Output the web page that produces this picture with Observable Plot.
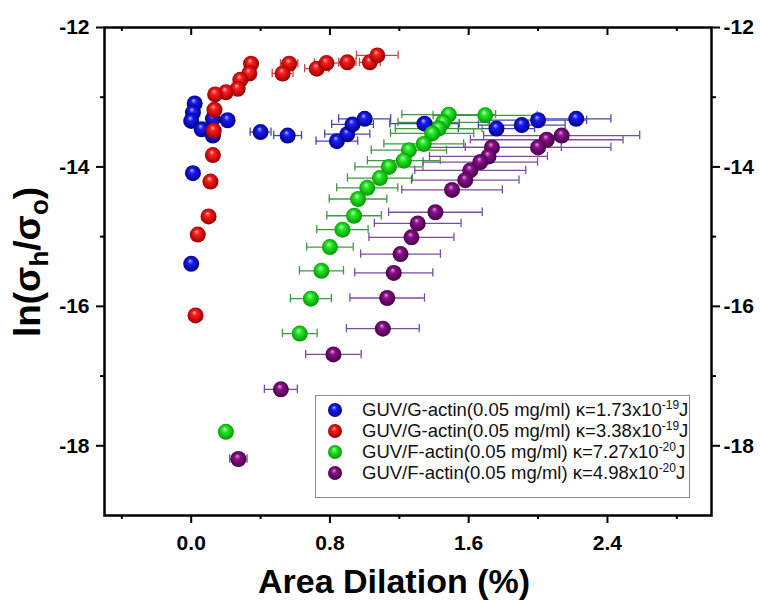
<!DOCTYPE html>
<html>
<head>
<meta charset="utf-8">
<script src="https://cdn.jsdelivr.net/npm/d3@7"></script>
<script src="https://cdn.jsdelivr.net/npm/@observablehq/plot@0.6"></script>
<style>
  body { margin: 0; background: #fff; }
  #wrap { position: relative; width: 760px; height: 603px; font-family: "Liberation Sans", Arial, sans-serif; }
  #defs { position: absolute; width: 0; height: 0; overflow: hidden; }
  #legend { position: absolute; left: 315px; top: 395px; width: 375px; height: 103px; box-sizing: border-box;
            border: 1px solid #8a8a8a; background: #fff; padding-top: 3px; }
  .row { height: 21px; display: flex; align-items: center; font-size: 18.5px; color: #111; white-space: nowrap; }
  .row svg { margin-left: 11px; margin-right: 19px; }
  .row sup { font-size: 12px; vertical-align: 7px; line-height: 0; }
</style>
</head>
<body>
<div id="wrap">
  <svg id="defs" width="0" height="0">
    <defs>
      <radialGradient id="gBlue" cx="50%" cy="50%" r="55%" fx="42%" fy="30%">
        <stop offset="0%" stop-color="#b8b8ff"/><stop offset="30%" stop-color="#1a1aff"/><stop offset="100%" stop-color="#00006e"/>
      </radialGradient>
      <radialGradient id="gRed" cx="50%" cy="50%" r="55%" fx="42%" fy="30%">
        <stop offset="0%" stop-color="#ffb8b8"/><stop offset="30%" stop-color="#ff1a1a"/><stop offset="100%" stop-color="#8a0000"/>
      </radialGradient>
      <radialGradient id="gGreen" cx="50%" cy="50%" r="55%" fx="42%" fy="30%">
        <stop offset="0%" stop-color="#d0ffd0"/><stop offset="30%" stop-color="#22ee22"/><stop offset="100%" stop-color="#078a07"/>
      </radialGradient>
      <radialGradient id="gPurple" cx="50%" cy="50%" r="55%" fx="42%" fy="30%">
        <stop offset="0%" stop-color="#e0a0e0"/><stop offset="30%" stop-color="#8c108c"/><stop offset="100%" stop-color="#3e003e"/>
      </radialGradient>
    </defs>
  </svg>
  <div id="chart"></div>
  <div id="legend"></div>
</div>
<script>
// ---- tick values ----
const xMajor = [0, 0.8, 1.6, 2.4];
const xMinor = [-0.4, 0.4, 1.2, 2.0, 2.8];
const yMajor = [-12, -14, -16, -18];
const yMinor = [-13, -15, -17];

// ---- series names ----
const seriesNames = [
  ["GUV/G-actin(0.05 mg/ml) κ=1.73x10", "-19", "J"],
  ["GUV/G-actin(0.05 mg/ml) κ=3.38x10", "-19", "J"],
  ["GUV/F-actin(0.05 mg/ml) κ=7.27x10", "-20", "J"],
  ["GUV/F-actin(0.05 mg/ml) κ=4.98x10", "-20", "J"]
];

// ---- blue: GUV/G-actin κ=1.73e-19 ----
const blueX = [0.02, 0.01, 0.0, 0.06, 0.125, 0.125, 0.21, 0.01, 0.0, 0.40, 0.556, 0.84, 0.90, 0.93, 1.0, 1.345, 1.76, 1.906, 2.0, 2.22];
const blueY = [-13.09, -13.22, -13.34, -13.46, -13.31, -13.55, -13.33, -14.09, -15.39, -13.50, -13.55, -13.63, -13.53, -13.39, -13.31, -13.38, -13.45, -13.40, -13.33, -13.31];
const blueErr = [0, 0, 0, 0, 0, 0, 0, 0, 0, 0.06, 0.08, 0.12, 0.13, 0.12, 0.15, 0.2, 0.22, 0.25, 0.28, 0.2];

// ---- red: GUV/G-actin κ=3.38e-19 ----
const redX = [0.345, 0.335, 0.283, 0.268, 0.20, 0.138, 0.134, 0.13, 0.125, 0.111, 0.10, 0.038, 0.025, 0.565, 0.527, 0.724, 0.78, 0.90, 1.03, 1.073];
const redY = [-12.52, -12.66, -12.75, -12.88, -12.93, -12.96, -13.18, -13.48, -13.83, -14.21, -14.71, -14.97, -16.13, -12.52, -12.66, -12.59, -12.51, -12.50, -12.50, -12.40];
const redErr = [0.03, 0, 0, 0, 0, 0, 0, 0, 0, 0, 0, 0, 0, 0.05, 0.06, 0.07, 0.07, 0.05, 0.06, 0.12];

// ---- green: GUV/F-actin κ=7.27e-20 ----
const greenX = [1.695, 1.485, 1.452, 1.427, 1.389, 1.341, 1.255, 1.226, 1.14, 1.088, 1.015, 0.962, 0.939, 0.872, 0.80, 0.751, 0.69, 0.626, 0.20];
const greenY = [-13.26, -13.25, -13.36, -13.45, -13.52, -13.67, -13.76, -13.91, -14.0, -14.16, -14.30, -14.46, -14.70, -14.90, -15.15, -15.49, -15.89, -16.39, -17.80];
const greenErr = [0.3, 0.27, 0.26, 0.25, 0.24, 0.23, 0.217, 0.21, 0.196, 0.187, 0.176, 0.166, 0.157, 0.148, 0.134, 0.127, 0.118, 0.10, 0];

// ---- purple: GUV/F-actin κ=4.98e-20 ----
const purpleX = [2.136, 2.05, 2.0, 1.734, 1.714, 1.667, 1.609, 1.58, 1.504, 1.408, 1.306, 1.27, 1.207, 1.168, 1.13, 1.105, 0.82, 0.517, 0.272];
const purpleY = [-13.55, -13.61, -13.72, -13.72, -13.85, -13.93, -14.05, -14.19, -14.33, -14.65, -14.81, -15.01, -15.25, -15.52, -15.88, -16.32, -16.69, -17.19, -18.19];
const purpleErr = [0.45, 0.44, 0.42, 0.40, 0.34, 0.33, 0.32, 0.31, 0.29, 0.27, 0.25, 0.245, 0.23, 0.225, 0.215, 0.21, 0.16, 0.095, 0.05];

// ---- build tables ----
const styles = [
  {fill: "url(#gBlue)", bar: "#4646b4"},
  {fill: "url(#gRed)", bar: "#c84646"},
  {fill: "url(#gGreen)", bar: "#3f9a3f"},
  {fill: "url(#gPurple)", bar: "#7d4a9e"}
];
const raw = [[blueX, blueY, blueErr], [redX, redY, redErr], [greenX, greenY, greenErr], [purpleX, purpleY, purpleErr]];
const series = raw.map(([xs, ys, es]) => xs.map((x, i) => ({x, y: ys[i], e: es[i]})));

const FONT = '"Liberation Sans", Arial, sans-serif';
const cap = 0.06;

const marks = [];
series.forEach((rows, k) => {
  const withErr = rows.filter(d => d.e > 0);
  marks.push(
    Plot.ruleY(withErr, {y: "y", x1: d => d.x - d.e, x2: d => d.x + d.e, stroke: styles[k].bar, strokeWidth: 1.3}),
    Plot.ruleX(withErr, {x: d => d.x - d.e, y1: d => d.y - cap, y2: d => d.y + cap, stroke: styles[k].bar, strokeWidth: 1.3}),
    Plot.ruleX(withErr, {x: d => d.x + d.e, y1: d => d.y - cap, y2: d => d.y + cap, stroke: styles[k].bar, strokeWidth: 1.3})
  );
});
series.forEach((rows, k) => {
  marks.push(Plot.dot(rows, {x: "x", y: "y", r: 8, fill: styles[k].fill, stroke: "none"}));
});

const frameH = 603 - 27 - 88;
const plot = Plot.plot({
  width: 760, height: 603,
  marginLeft: 104, marginRight: 49, marginTop: 27, marginBottom: 88,
  x: {domain: [-0.5, 3], label: null},
  y: {domain: [-19, -12], label: null},
  style: {fontFamily: FONT, background: "white", color: "black", overflow: "visible"},
  marks: [
    ...marks,
    Plot.axisX(xMajor, {anchor: "bottom", tickSize: 8, tickPadding: 12, tickFormat: d => d.toFixed(1), fontSize: 21, fontWeight: "bold", strokeWidth: 2, label: null}),
    Plot.axisX(xMinor, {anchor: "bottom", tickSize: 4, tickFormat: () => "", strokeWidth: 2, label: null}),
    Plot.tickX(xMajor, {x: d => d, insetBottom: frameH - 8, stroke: "black", strokeWidth: 2}),
    Plot.tickX(xMinor, {x: d => d, insetBottom: frameH - 4, stroke: "black", strokeWidth: 2}),
    Plot.axisY(yMajor, {anchor: "left", tickSize: 8, tickPadding: 7, tickFormat: d => String(d), fontSize: 21, fontWeight: "bold", strokeWidth: 2, label: null}),
    Plot.axisY(yMinor, {anchor: "left", tickSize: 4, tickFormat: () => "", strokeWidth: 2, label: null}),
    Plot.axisY(yMajor, {anchor: "right", tickSize: 8, tickPadding: 4, tickFormat: d => String(d), fontSize: 21, fontWeight: "bold", strokeWidth: 2, label: null}),
    Plot.axisY(yMinor, {anchor: "right", tickSize: 4, tickFormat: () => "", strokeWidth: 2, label: null}),
    Plot.frame({stroke: "black", strokeWidth: 2.5})
  ]
});
document.getElementById("chart").appendChild(plot);

// ---- axis titles ----
const svg = d3.select(plot);
svg.append("text")
  .attr("x", 394).attr("y", 593)
  .attr("text-anchor", "middle")
  .attr("font-family", FONT).attr("font-weight", "bold").attr("font-size", 34)
  .attr("fill", "black")
  .text("Area Dilation (%)");

const yl = svg.append("text")
  .attr("transform", "translate(40,262) rotate(-90)")
  .attr("text-anchor", "middle")
  .attr("font-family", FONT).attr("font-weight", "bold").attr("font-size", 37)
  .attr("fill", "black");
yl.append("tspan").text("ln(σ");
yl.append("tspan").attr("font-size", 26).attr("dy", 8).text("h");
yl.append("tspan").attr("dy", -8).text("/σ");
yl.append("tspan").attr("font-size", 26).attr("dy", 8).text("o");
yl.append("tspan").attr("dy", -8).text(")");

// ---- legend ----
const legend = document.getElementById("legend");
seriesNames.forEach((parts, k) => {
  const row = document.createElement("div");
  row.className = "row";
  row.innerHTML = `<svg width="16" height="16"><circle cx="8" cy="8" r="7" fill="${styles[k].fill}"/></svg>` +
    `<span>${parts[0]}<sup>${parts[1]}</sup>${parts[2]}</span>`;
  legend.appendChild(row);
});
</script>
</body>
</html>
